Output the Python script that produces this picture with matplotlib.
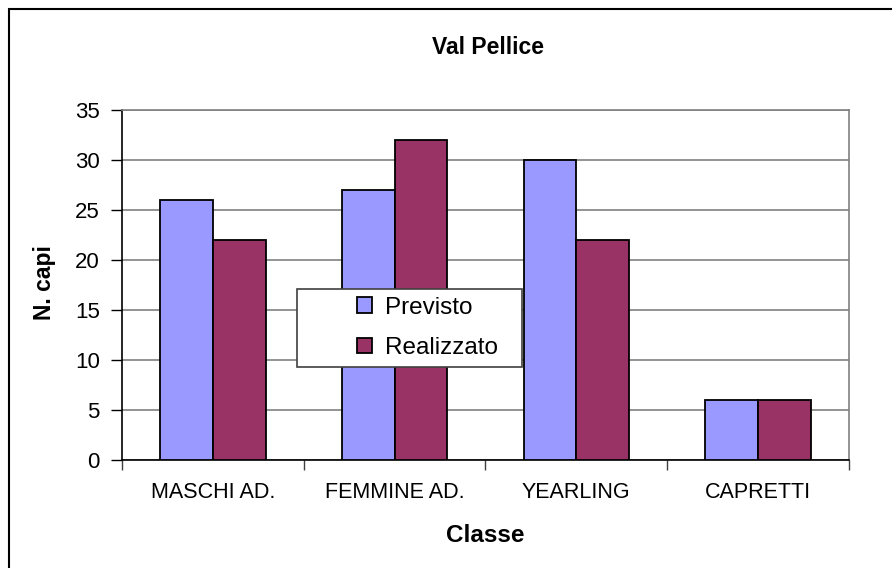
import matplotlib
matplotlib.use("Agg")
import matplotlib.pyplot as plt
import numpy as np
from matplotlib.patches import Rectangle

categories = ["MASCHI AD.", "FEMMINE AD.", "YEARLING", "CAPRETTI"]
previsto = [26, 27, 30, 6]
realizzato = [22, 32, 22, 6]
series_names = ["Previsto", "Realizzato"]
y_ticks = [0, 5, 10, 15, 20, 25, 30, 35]

plt.rcParams['font.family'] = ['Liberation Sans', 'DejaVu Sans']

W, H = 892, 568
fig = plt.figure(figsize=(W / 100, H / 100), dpi=100)

# outer chart frame (only left/top visible in reference)
fig.patches.append(Rectangle((9 / W, -0.1), 1.2, 1 - 9 / H + 0.1,
                             transform=fig.transFigure, fill=False,
                             edgecolor='black', linewidth=1.5))

ax_l, ax_r, ax_t, ax_b = 122, 849, 110, 460
ax = fig.add_axes([ax_l / W, 1 - ax_b / H, (ax_r - ax_l) / W, (ax_b - ax_t) / H])

x = np.arange(len(categories))
width = 0.29
ax.bar(x - width / 2, previsto, width, color='#9999FF', edgecolor='black',
       linewidth=1.3, label=series_names[0], zorder=3)
ax.bar(x + width / 2, realizzato, width, color='#993366', edgecolor='black',
       linewidth=1.3, label=series_names[1], zorder=3)

ax.set_xlim(-0.5, len(categories) - 0.5)
ax.set_ylim(0, 35)
ax.set_yticks(y_ticks)
ax.yaxis.grid(True, color='#808080', linewidth=1.2, zorder=0)

# category ticks at boundaries, labels centred
ax.set_xticks(np.arange(len(categories) + 1) - 0.5)
ax.set_xticklabels([])
ax.set_xticks(x, minor=True)
ax.set_xticklabels(categories, minor=True, fontsize=15.5)
ax.tick_params(axis='x', which='minor', length=0, pad=16)
ax.tick_params(axis='x', which='major', length=7, width=1, color='#404040')
ax.tick_params(axis='y', length=8, width=1, labelsize=16, pad=8)

for side in ['top', 'right']:
    ax.spines[side].set_color('#808080')
    ax.spines[side].set_linewidth(1.2)
for side in ['left', 'bottom']:
    ax.spines[side].set_color('black')
    ax.spines[side].set_linewidth(1.2)

fig.text(488 / W, 1 - 48 / H, "Val Pellice", ha='center', va='center',
         fontsize=16.5, fontweight='bold')
fig.text(45 / W, 1 - 283 / H, "N. capi", ha='center', va='center',
         rotation=90, fontsize=16.5, fontweight='bold')
fig.text(485 / W, 1 - 535 / H, "Classe", ha='center', va='center',
         fontsize=17.5, fontweight='bold')


def to_ax(px, py):
    return (px - ax_l) / (ax_r - ax_l), (ax_b - py) / (ax_b - ax_t)


# legend frame drawn separately
lx0, ly0 = to_ax(297, 367)
lx1, ly1 = to_ax(522, 289)
ax.add_patch(Rectangle((lx0, ly0), lx1 - lx0, ly1 - ly0, transform=ax.transAxes,
                       facecolor='white', edgecolor='#404040', linewidth=1.2,
                       zorder=5, clip_on=False))

ancx, ancy = to_ax(357, 328)
leg = ax.legend(loc='center left', bbox_to_anchor=(ancx, ancy),
                fontsize=17.5, frameon=False,
                handlelength=0.62, handleheight=0.62, borderpad=0,
                labelspacing=0.75, handletextpad=0.55, borderaxespad=0)
leg.set_zorder(6)

fig.savefig("out.png", dpi=100)
